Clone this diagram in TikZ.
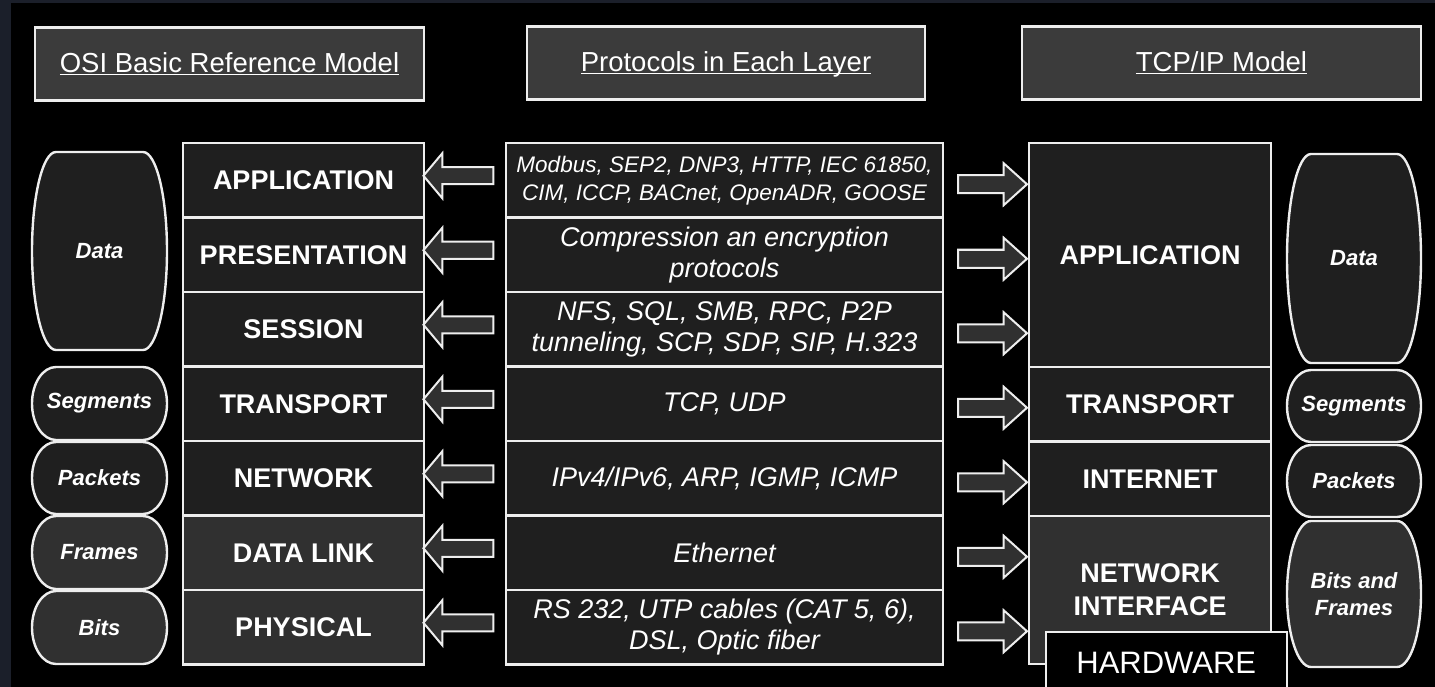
\documentclass[tikz,border=0pt]{standalone}
\usepackage{fontspec}
\setmainfont{Liberation Sans}
\usepackage{tikz}
\usetikzlibrary{positioning,calc,shapes.arrows}

\definecolor{navy}{HTML}{1B1F2A}
\definecolor{rowdark}{HTML}{1F1F1F}
\definecolor{rowlight}{HTML}{303030}
\definecolor{headgray}{HTML}{3B3B3B}
\definecolor{linewhite}{HTML}{EEEEEE}

\pgfdeclarelayer{back}
\pgfsetlayers{back,main}

\newcommand{\headline}[1]{\underline{\raisebox{0pt}[\height][0pt]{#1}}}

% barrel outline behind a pdu node: flat top and bottom, bulging sides
\newcommand{\pdushape}[2]{%
  \begin{pgfonlayer}{back}
    \draw[pduline, fill=#2] ([xshift=24pt]#1.north west) -- ([xshift=-24pt]#1.north east)
      .. controls ([xshift=-10.7pt]#1.north east) and ($(#1.east)!0.5523!(#1.north east)$) .. (#1.east)
      .. controls ($(#1.east)!0.5523!(#1.south east)$) and ([xshift=-10.7pt]#1.south east) .. ([xshift=-24pt]#1.south east)
      -- ([xshift=24pt]#1.south west)
      .. controls ([xshift=10.7pt]#1.south west) and ($(#1.west)!0.5523!(#1.south west)$) .. (#1.west)
      .. controls ($(#1.west)!0.5523!(#1.north west)$) and ([xshift=10.7pt]#1.north west) .. cycle;
  \end{pgfonlayer}}

\begin{document}
\begin{tikzpicture}[x=1pt, y=1pt,
  box/.style={draw=linewhite, line width=2.4pt, outer sep=0pt, inner sep=0pt, text=white, align=center},
  head/.style={box, fill=headgray, minimum height=73pt, font=\fontsize{27.5}{32}\selectfont},
  osi/.style={box, fill=rowdark, minimum width=241pt, minimum height=74.5pt, font=\fontsize{27}{33}\selectfont\bfseries},
  tcp/.style={osi, minimum width=242pt},
  proto/.style={box, fill=rowdark, minimum width=437pt, minimum height=74.5pt, font=\fontsize{27}{31}\selectfont\itshape},
  pdu/.style={inner sep=0pt, outer sep=0pt, text=white, align=center, font=\fontsize{22}{27}\selectfont\bfseries\itshape},
  pduline/.style={draw=linewhite, line width=2.4pt},
  larrow/.style={single arrow, shape border rotate=180, draw=linewhite, fill=rowlight, line width=2pt,
    minimum height=70pt, inner xsep=0pt, inner ysep=7.5pt, single arrow head extend=14pt, single arrow tip angle=100},
  rarrow/.style={larrow, shape border rotate=0, minimum height=69pt, inner ysep=8pt, single arrow head extend=12pt, single arrow tip angle=84}
]
\useasboundingbox (0,0) rectangle (1435,-687);
\begin{pgfonlayer}{back}
  \fill[navy] (0,0) rectangle (1435,-687);
  \fill[black] (11,-3) rectangle (1435,-687);
\end{pgfonlayer}

% headings
\node[head, minimum width=389pt] (osihead) at (229.5,-64) {\headline{OSI Basic Reference Model}};
\node[head, minimum width=398pt] (protohead) at (726,-63) {\headline{Protocols in Each Layer}};
\node[head, minimum width=399pt] (tcphead) at (1221.5,-63) {\headline{TCP/IP Model}};

% OSI layers
\node[osi] (application) at (303.5,-180.25) {APPLICATION};
\node[osi, below=0pt of application] (presentation) {PRESENTATION};
\node[osi, below=0pt of presentation] (session) {SESSION};
\node[osi, below=0pt of session] (transport) {TRANSPORT};
\node[osi, below=0pt of transport] (network) {NETWORK};
\node[osi, fill=rowlight, below=0pt of network] (datalink) {DATA LINK};
\node[osi, fill=rowlight, below=0pt of datalink] (physical) {PHYSICAL};

% protocols
\node[proto, font=\fontsize{22.5}{28}\selectfont\itshape] (modbus) at (724.5,-180.25) {Modbus, SEP2, DNP3, HTTP, IEC 61850,\\CIM, ICCP, BACnet, OpenADR, GOOSE};
\node[proto, below=0pt of modbus] (compress) {Compression an encryption\\protocols};
\node[proto, below=0pt of compress] (nfs) {NFS, SQL, SMB, RPC, P2P\\tunneling, SCP, SDP, SIP, H.323};
\node[proto, below=0pt of nfs] (tcpudp) {TCP, UDP};
\node[proto, below=0pt of tcpudp] (ipv) {IPv4/IPv6, ARP, IGMP, ICMP};
\node[proto, below=0pt of ipv] (ether) {Ethernet};
\node[proto, below=0pt of ether] (rs) {RS 232, UTP cables (CAT 5, 6),\\DSL, Optic fiber};

% TCP/IP layers
\node[tcp, minimum height=224pt] (tapp) at (1150,-255) {APPLICATION};
\node[tcp, below=0pt of tapp] (ttrans) {TRANSPORT};
\node[tcp, below=0pt of ttrans] (tinet) {INTERNET};
\node[tcp, fill=rowlight, minimum height=148pt, below=0pt of tinet] (tnet) {NETWORK\\INTERFACE};

% block arrows
\foreach \row in {application,presentation,session,transport,network,datalink,physical}
  \node[larrow] (l\row) at ($(\row.east)+(38,4.5)$) {};
\foreach \row in {modbus,compress,nfs,tcpudp,ipv,ether,rs}
  \node[rarrow] (r\row) at ($(\row.east)+(44.5,-4)$) {};

% data units, left
\node[pdu, minimum width=135pt, minimum height=198pt] (ldata) at (99.5,-251) {Data};
\node[pdu, minimum width=135pt, minimum height=73pt] (lseg) at (99.5,-403.5) {Segments};
\node[pdu, minimum width=135pt, minimum height=72pt] (lpack) at (99.5,-478) {Packets};
\node[pdu, minimum width=135pt, minimum height=73pt] (lframe) at (99.5,-552.5) {Frames};
\node[pdu, minimum width=135pt, minimum height=73pt] (lbits) at (99.5,-627.5) {Bits};
\pdushape{ldata}{rowdark}
\pdushape{lseg}{rowdark}
\pdushape{lpack}{rowdark}
\pdushape{lframe}{rowlight}
\pdushape{lbits}{rowlight}

% data units, right
\node[pdu, minimum width=134pt, minimum height=209pt] (rdata) at (1354,-258.5) {Data};
\node[pdu, minimum width=134pt, minimum height=72pt] (rseg) at (1354,-406) {Segments};
\node[pdu, minimum width=134pt, minimum height=72pt] (rpack) at (1354,-481) {Packets};
\node[pdu, minimum width=134pt, minimum height=146pt] (rbits) at (1354,-594) {Bits and\\Frames};
\pdushape{rdata}{rowdark}
\pdushape{rseg}{rowdark}
\pdushape{rpack}{rowdark}
\pdushape{rbits}{rowlight}

\node[draw=linewhite, line width=1.5pt, fill=black, text=white, minimum width=241pt, minimum height=62pt,
  anchor=north west, font=\fontsize{31}{36}\selectfont] (hardware) at (1045,-631) {HARDWARE};
\end{tikzpicture}
\end{document}
